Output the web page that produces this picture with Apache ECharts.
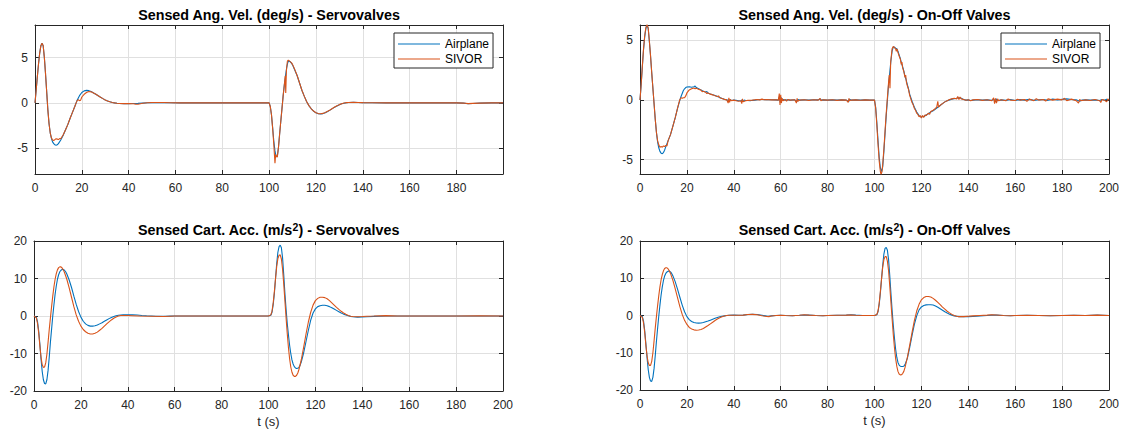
<!DOCTYPE html>
<html><head><meta charset="utf-8">
<script src="https://cdn.jsdelivr.net/npm/echarts@6/dist/echarts.min.js"></script>
<style>html,body{margin:0;padding:0;background:#fff}#c{width:1124px;height:433px}</style>
</head><body><div id="c"></div>
<script>
// ---------- data ----------
const seriesNames = ['Airplane', 'SIVOR'];
// title parts: [text before superscript, superscript, text after]
const panelTitles = [
  ['Sensed Ang. Vel. (deg/s) - Servovalves', '', ''],
  ['Sensed Ang. Vel. (deg/s) - On-Off Valves', '', ''],
  ['Sensed Cart. Acc. (m/s', '2', ') - Servovalves'],
  ['Sensed Cart. Acc. (m/s', '2', ') - On-Off Valves']
];
const xLabelText = 't (s)';
const xTickStep = 20;
const xRanges = [[0, 199.9], [0, 200], [0, 200], [0, 200]];
const yRanges = [[-7.85, 8.6], [-6.2, 6.3], [-20, 20], [-20, 20]];
const yTickSteps = [5, 5, 10, 10];

const servoAngAirplane = [[0,0],[0.5,1.4],[1,2.9],[1.5,4.3],[2,5.5],[2.5,6.3],[3,6.6],[3.5,6.3],[4,5.0],[4.5,3.2],[5,1.2],[5.5,-0.8],[6,-2.3],[6.5,-3.3],[7,-3.9],[7.5,-4.3],[8,-4.5],[8.5,-4.62],[9,-4.67],[9.5,-4.62],[10,-4.5],[11,-4.1],[12,-3.6],[13,-3.0],[14,-2.4],[15,-1.7],[16,-1.05],[17,-0.4],[18,0.3],[19,0.8],[20,1.15],[21,1.33],[22,1.38],[23,1.35],[24,1.25],[25,1.1],[26,0.95],[27,0.78],[28,0.62],[29,0.47],[30,0.33],[31,0.21],[32,0.12],[33,0.05],[34,0],[35,-0.04],[36,-0.07],[38,-0.09],[40,-0.09],[42,-0.07],[44,-0.05],[46,-0.02],[48,0.01],[50,0.03],[52,0.04],[55,0.03],[58,0.01],[62,0],[70,0],[80,0],[90,0],[100,0],[100.5,-0.4],[101,-1.3],[101.5,-2.7],[102,-4.2],[102.5,-5.3],[103,-5.95],[103.5,-5.9],[104,-4.9],[104.5,-3.4],[105,-2.0],[105.5,-0.6],[106,0.8],[106.5,2.0],[107,3.0],[107.5,3.9],[108,4.5],[108.5,4.6],[109,4.55],[109.5,4.4],[110,4.2],[111,3.6],[112,3.0],[113,2.2],[114,1.4],[115,0.75],[116,0.15],[117,-0.3],[118,-0.65],[119,-0.92],[120,-1.1],[121,-1.2],[122,-1.22],[123,-1.18],[124,-1.08],[125,-0.95],[126,-0.8],[127,-0.63],[128,-0.47],[129,-0.33],[130,-0.2],[131,-0.1],[132,-0.03],[133,0.02],[134,0.05],[136,0.06],[138,0.05],[140,0.03],[144,0.01],[150,0],[160,0],[170,0],[180,0],[183,-0.03],[185,-0.1],[187,-0.06],[190,-0.02],[195,0],[199.9,0]];
const servoAngSivor = [[0,0],[0.5,1.4],[1,2.9],[1.5,4.3],[2,5.5],[2.5,6.3],[3,6.6],[3.5,6.3],[4,5.0],[4.5,3.2],[5,1.2],[5.5,-0.8],[6,-2.3],[6.5,-3.3],[7,-3.85],[7.5,-4.1],[8,-4.15],[8.5,-4.05],[9,-3.95],[9.5,-4.0],[10,-4.05],[10.5,-3.95],[11,-3.95],[12,-3.55],[13,-3.0],[14,-2.4],[15,-1.7],[16,-1.05],[17,-0.4],[17.5,-0.05],[18,0.25],[18.5,0.35],[19,0.25],[19.5,0.3],[20,0.65],[21,0.95],[22,1.15],[23,1.25],[24,1.22],[25,1.1],[26,0.95],[27,0.78],[28,0.62],[29,0.47],[30,0.33],[31,0.21],[32,0.12],[33,0.05],[34,0],[35,-0.04],[36,-0.07],[38,-0.08],[40,-0.08],[42,-0.1],[43,-0.14],[44,-0.15],[45,-0.1],[46,-0.04],[48,0.01],[50,0.04],[52,0.05],[55,0.04],[58,0.01],[62,0],[70,0],[80,0],[90,0],[100,0],[100.5,-0.4],[101,-1.3],[101.5,-2.8],[102,-4.6],[102.5,-6.67],[102.8,-5.7],[103,-5.8],[103.5,-6.0],[104,-4.9],[104.5,-3.4],[105,-2.0],[105.5,-0.6],[106,0.8],[106.5,2.0],[106.9,3.0],[107.1,1.1],[107.4,3.6],[107.8,4.6],[108.2,4.72],[108.6,4.65],[109,4.55],[109.5,4.45],[110,4.25],[111,3.65],[112,3.0],[113,2.2],[114,1.4],[115,0.75],[116,0.15],[117,-0.3],[118,-0.65],[119,-0.9],[120,-1.08],[121,-1.18],[122,-1.2],[123,-1.16],[124,-1.06],[125,-0.93],[126,-0.78],[127,-0.62],[128,-0.46],[129,-0.32],[130,-0.19],[131,-0.09],[132,-0.02],[133,0.03],[134,0.05],[136,0.06],[138,0.05],[140,0.03],[144,0.01],[150,0],[160,0],[170,0],[180,0],[183,-0.02],[185,-0.08],[187,-0.05],[190,-0.02],[195,0],[199.9,0]];

const onoffAngAirplane = [[0,0],[0.5,1.3],[1,2.8],[1.5,4.2],[2,5.3],[2.5,6.0],[3,6.3],[3.5,6.0],[4,4.9],[4.5,3.7],[5,2.3],[5.5,1.0],[6,-0.3],[6.5,-1.6],[7,-2.7],[7.5,-3.5],[8,-4.0],[8.5,-4.3],[9,-4.45],[9.5,-4.5],[10,-4.4],[10.5,-4.2],[11,-3.9],[12,-3.4],[13,-2.9],[14,-2.2],[15,-1.5],[16,-0.7],[17,0],[17.5,0.3],[18,0.55],[18.5,0.8],[19,0.95],[19.5,1.05],[20,1.1],[21,1.12],[22,1.08],[23,1.12],[23.5,1.18],[24,1.05],[25,0.95],[26,0.85],[27,0.75],[28,0.68],[28.5,0.72],[29,0.6],[30,0.52],[31,0.45],[32,0.38],[33,0.3],[34,0.22],[35,0.14],[36,0.07],[37,0.02],[38,-0.05],[38.5,0.02],[39,-0.03],[40,0],[41,-0.02],[42,-0.05],[43,-0.08],[43.5,0.02],[44,-0.1],[44.5,0],[45,-0.04],[46,-0.03],[47,-0.06],[48,-0.02],[49,0],[50,0.03],[52,0.05],[54,0.04],[56,0.03],[58,0.02],[59,0],[59.5,0.3],[59.8,-0.2],[60.1,0.25],[60.4,-0.05],[61,0.05],[62,0],[63,0.03],[64,0],[66,0.02],[67,-0.1],[67.4,0.05],[68,0],[70,0.02],[72,0.01],[74,0.03],[76,0.02],[77,0.1],[77.3,-0.02],[78,0.02],[80,0],[82,0.02],[84,0],[86,0.02],[88,0],[89,-0.12],[89.3,0.08],[90,0],[92,0.02],[94,0],[96,0.02],[98,0],[100,0],[100.5,-0.6],[101,-1.9],[101.5,-3.4],[102,-4.8],[102.5,-5.7],[103,-6.0],[103.5,-5.6],[104,-4.3],[104.5,-2.8],[105,-1.3],[105.5,0],[106,1.3],[106.5,2.3],[107,3.3],[107.5,4.1],[108,4.45],[108.5,4.45],[109,4.35],[109.5,4.3],[110,4.1],[110.5,3.8],[111,3.5],[111.5,3.1],[112,2.8],[112.5,2.45],[113,2.0],[113.5,1.7],[114,1.3],[114.5,0.95],[115,0.5],[115.5,0.2],[116,-0.1],[117,-0.6],[118,-1.0],[119,-1.3],[120,-1.45],[120.5,-1.35],[121,-1.4],[122,-1.25],[123,-1.15],[124,-1.0],[125,-0.9],[126,-0.75],[127,-0.6],[128,-0.45],[129,-0.3],[130,-0.15],[131,-0.05],[132,0.02],[133,0.08],[134,0.12],[135,0.15],[136,0.2],[137,0.15],[138,0.05],[139,0],[140,0.02],[141,-0.03],[142,0],[144,0.03],[146,0],[148,0.02],[150,-0.02],[151,0.05],[151.5,-0.15],[152,0.1],[152.5,-0.05],[154,0.02],[156,-0.02],[158,0.05],[160,-0.03],[162,0.04],[164,0],[166,0.06],[168,-0.02],[170,0.03],[172,0.05],[174,-0.02],[176,0.08],[178,0.02],[180,0.06],[182,0.1],[184,0.05],[186,0.02],[187.5,-0.1],[188.5,0],[190,0.02],[192,0],[194,0.02],[196,-0.03],[197,0.05],[198,-0.02],[199,0.08],[200,0]];
const onoffAngSivor = [[0,0],[0.5,1.35],[1,2.85],[1.5,4.3],[2,5.4],[2.5,6.1],[3,6.35],[3.5,6.05],[4,4.95],[4.5,3.7],[5,2.3],[5.5,1.0],[6,-0.3],[6.5,-1.6],[7,-2.7],[7.5,-3.4],[8,-3.75],[8.5,-3.95],[9,-3.9],[9.5,-3.95],[10,-3.85],[10.5,-3.9],[11,-3.8],[11.5,-3.85],[12,-3.4],[13,-2.9],[14,-2.2],[15,-1.5],[16,-0.7],[16.5,-0.3],[17,0.05],[17.5,0.2],[18,0.15],[18.5,0.2],[19,0.2],[19.5,0.35],[20,0.6],[21,0.85],[22,0.95],[23,1.02],[23.5,0.95],[24,1.0],[25,0.9],[26,0.85],[26.5,0.7],[27,0.75],[28,0.66],[28.5,0.55],[29,0.6],[30,0.5],[31,0.44],[32,0.36],[33,0.3],[33.5,0.35],[34,0.2],[35,0.13],[36,0.06],[37,0.02],[37.6,-0.25],[37.9,0.2],[38.2,-0.2],[38.5,0.05],[39,-0.05],[40,0],[41,-0.05],[42,-0.1],[43,-0.05],[43.4,-0.3],[43.7,0.1],[44,-0.15],[45,-0.05],[46,-0.02],[48,0],[50,0.05],[51,0.02],[52,0.08],[53,0.03],[54,0.05],[56,0.02],[58,0.03],[59,0],[59.4,0.55],[59.7,-0.4],[60,0.45],[60.3,-0.25],[60.6,0.15],[61,-0.05],[62,0.05],[62.5,-0.1],[63,0.05],[64,0],[66,0.03],[66.7,-0.25],[67,0.15],[67.3,-0.1],[68,0],[70,0.03],[72,-0.02],[74,0.03],[76,0],[76.8,0.15],[77.1,-0.05],[78,0.02],[80,0],[82,0.03],[84,-0.02],[86,0.02],[88,0],[88.8,-0.2],[89.1,0.15],[89.4,-0.05],[90,0],[92,0.02],[94,-0.01],[96,0.02],[98,0],[100,0],[100.5,-0.7],[101,-2.1],[101.5,-3.7],[102,-5.1],[102.5,-6.0],[102.8,-6.25],[103.2,-6.0],[103.5,-5.4],[104,-4.1],[104.5,-2.6],[105,-1.1],[105.5,0.2],[106,1.5],[106.3,2.1],[106.6,1.0],[106.9,3.2],[107.5,4.3],[108,4.5],[108.5,4.4],[109,4.3],[109.3,4.1],[109.6,4.3],[110,4.0],[110.5,3.7],[111,3.45],[111.4,3.0],[111.7,3.2],[112,2.7],[112.5,2.4],[113,1.9],[113.3,2.1],[113.6,1.5],[114,1.2],[114.5,0.9],[115,0.4],[115.5,0.1],[116,-0.2],[116.5,-0.4],[117,-0.7],[117.5,-0.85],[118,-1.1],[118.5,-1.2],[119,-1.4],[119.5,-1.3],[120,-1.5],[120.5,-1.3],[121,-1.45],[121.5,-1.25],[122,-1.3],[123,-1.1],[123.5,-1.2],[124,-0.95],[125,-0.85],[126,-0.7],[126.5,-0.6],[127,-0.1],[127.3,-0.6],[128,-0.45],[128.5,-0.35],[129,-0.3],[130,-0.15],[131,-0.05],[132,0.05],[133,0.1],[134,0.15],[135,0.1],[135.5,0.3],[136,0.05],[136.5,0.25],[137,0.1],[138,0.05],[139,-0.02],[140,0.03],[141,-0.05],[142,0.02],[144,0.05],[146,-0.02],[148,0.03],[150,-0.05],[150.8,0.2],[151.2,-0.3],[151.6,0.15],[152,-0.25],[152.5,0.1],[153,-0.05],[154,0.03],[156,-0.05],[157,0.1],[158,0],[160,-0.04],[161,0.08],[162,0],[164,0.05],[165,-0.1],[166,0.08],[168,-0.05],[169,0.12],[170,0],[172,0.05],[173,-0.08],[174,0.1],[176,0],[178,0.08],[180,0.02],[181,0.15],[182,-0.05],[184,0.08],[186,-0.05],[187,-0.25],[187.5,0.05],[188,-0.05],[190,0.02],[192,-0.03],[194,0.05],[196,-0.05],[196.5,-0.2],[197,0.05],[198,0],[199,-0.15],[199.5,0.1],[200,0]];

const servoAccAirplane = [[0,0],[1,-0.3],[1.5,-1.5],[2,-4],[2.5,-7.5],[3,-11.5],[3.5,-14.8],[4,-17.0],[4.5,-18.0],[5,-18.1],[5.5,-17.0],[6,-14.5],[6.5,-11],[7,-7],[7.5,-3.5],[8,0],[8.5,3],[9,5.8],[9.5,8],[10,9.8],[10.5,11],[11,11.8],[11.5,12.2],[12,12.4],[12.5,12.4],[13,12.2],[13.5,11.8],[14,11.2],[15,9.6],[16,7.6],[17,5.3],[18,3.1],[19,1.2],[20,-0.3],[21,-1.4],[22,-2.1],[23,-2.5],[24,-2.7],[25,-2.7],[26,-2.6],[27,-2.4],[28,-2.1],[29,-1.8],[30,-1.4],[31,-1.05],[32,-0.7],[33,-0.4],[34,-0.15],[35,0.05],[36,0.2],[37,0.28],[38,0.3],[40,0.32],[42,0.3],[44,0.25],[46,0.15],[48,0.08],[50,0.02],[52,-0.05],[54,-0.1],[56,-0.08],[58,-0.04],[60,0],[70,0],[80,0],[90,0],[100,0],[101,0.2],[101.5,1],[102,3],[102.5,6],[103,10],[103.5,14],[104,17],[104.5,18.5],[105,18.9],[105.5,18.2],[106,15.5],[106.5,11],[107,6],[107.5,1.8],[108,-2],[108.5,-5],[109,-7.8],[109.5,-10],[110,-11.7],[110.5,-12.8],[111,-13.5],[111.5,-13.85],[112,-14],[112.5,-13.95],[113,-13.7],[113.5,-13.1],[114,-12.2],[115,-9.8],[116,-6.8],[117,-3.8],[118,-1.1],[119,0.8],[120,1.9],[121,2.5],[122,2.75],[123,2.85],[124,2.85],[125,2.75],[126,2.5],[127,2.2],[128,1.85],[129,1.5],[130,1.15],[131,0.8],[132,0.5],[133,0.25],[134,0.05],[135,-0.1],[136,-0.2],[138,-0.3],[140,-0.28],[142,-0.2],[145,-0.1],[150,0],[160,0],[170,0],[180,0],[190,0],[200,0]];
const servoAccSivor = [[0,0],[1,-0.5],[1.5,-2],[2,-4.5],[2.5,-8],[3,-11],[3.5,-13],[4,-13.7],[4.5,-13.6],[5,-12.5],[5.5,-10.2],[6,-7],[6.5,-3.6],[7,-0.5],[7.5,2.5],[8,5.3],[8.5,7.8],[9,9.8],[9.5,11.3],[10,12.3],[10.5,12.9],[11,13.1],[11.5,13.1],[12,12.8],[12.5,12.3],[13,11.6],[14,9.8],[15,7.5],[16,5],[17,2.5],[18,0.3],[19,-1.4],[20,-2.7],[21,-3.6],[22,-4.2],[23,-4.6],[24,-4.8],[25,-4.8],[26,-4.6],[27,-4.3],[28,-3.8],[29,-3.3],[30,-2.7],[31,-2.1],[32,-1.55],[33,-1.05],[34,-0.6],[35,-0.25],[36,0],[37,0.12],[38,0.15],[40,0.12],[42,0.08],[45,0.02],[50,-0.05],[55,-0.15],[58,-0.05],[60,0],[70,0],[80,0],[90,0],[100,0],[101,0.3],[101.5,1.3],[102,3.5],[102.5,6.5],[103,10],[103.5,13.2],[104,15.3],[104.5,16.2],[105,16.3],[105.5,15.2],[106,12.5],[106.5,8.5],[107,4],[107.5,-0.5],[108,-4.7],[108.5,-8.4],[109,-11.4],[109.5,-13.6],[110,-15.0],[110.5,-15.8],[111,-16.1],[111.5,-16.1],[112,-15.8],[112.5,-15.2],[113,-14.2],[114,-11.6],[115,-8.3],[116,-4.8],[117,-1.6],[118,1.0],[119,2.9],[120,4.1],[121,4.7],[122,5.0],[123,5.0],[124,4.9],[125,4.6],[126,4.1],[127,3.5],[128,2.9],[129,2.3],[130,1.75],[131,1.25],[132,0.8],[133,0.45],[134,0.15],[135,-0.05],[136,-0.15],[138,-0.2],[140,-0.15],[142,-0.05],[145,0],[150,0.1],[155,0],[160,0],[170,0],[180,0],[190,0.05],[200,0]];

const onoffAccAirplane = [[0,0],[1,-0.3],[1.5,-1.5],[2,-4],[2.5,-7.5],[3,-11.3],[3.5,-14.5],[4,-16.6],[4.5,-17.6],[5,-17.7],[5.5,-16.6],[6,-14.2],[6.5,-10.8],[7,-7],[7.5,-3.5],[8,-0.2],[8.5,2.8],[9,5.5],[9.5,7.7],[10,9.4],[10.5,10.6],[11,11.3],[11.5,11.7],[12,11.9],[12.5,11.9],[13,11.7],[13.5,11.3],[14,10.7],[15,9.1],[16,7.1],[17,4.9],[18,2.8],[19,1.0],[20,-0.3],[21,-1.1],[22,-1.6],[23,-1.9],[24,-2.0],[25,-2.05],[26,-2.0],[27,-1.9],[28,-1.7],[29,-1.5],[30,-1.25],[31,-1.0],[32,-0.75],[33,-0.55],[34,-0.35],[35,-0.2],[36,-0.1],[37,0],[38,0.05],[40,0.1],[42,0.05],[44,0.1],[46,0.25],[48,0.3],[50,0.25],[52,0.05],[54,-0.15],[55,-0.2],[56,-0.1],[58,0],[60,0.05],[62,0],[65,-0.05],[68,0.05],[70,0.15],[72,0.1],[75,0],[78,-0.05],[80,0],[84,0.05],[88,0.1],[90,0.2],[92,0.1],[95,0],[100,0],[101,0.2],[101.5,1],[102,3],[102.5,6],[103,9.8],[103.5,13.5],[104,16.5],[104.5,18],[105,18.3],[105.5,17.5],[106,15],[106.5,10.8],[107,6],[107.5,1.5],[108,-2.5],[108.5,-6],[109,-9],[109.5,-11.2],[110,-12.6],[110.5,-13.3],[111,-13.6],[111.5,-13.7],[112,-13.7],[112.5,-13.6],[113,-13.2],[114,-11.5],[115,-8.6],[116,-5.4],[117,-2.4],[118,-0.1],[119,1.5],[120,2.3],[121,2.7],[122,2.85],[123,2.9],[124,2.9],[125,2.8],[126,2.55],[127,2.2],[128,1.8],[129,1.4],[130,1.0],[131,0.65],[132,0.35],[133,0.1],[134,-0.1],[135,-0.2],[136,-0.3],[138,-0.35],[140,-0.3],[142,-0.25],[145,-0.15],[148,0],[150,0.1],[152,0.1],[155,0],[158,-0.05],[160,0],[165,0.05],[170,0],[175,-0.05],[180,0],[185,0.05],[190,0],[195,0.1],[200,0]];
const onoffAccSivor = [[0,0],[1,-0.5],[1.5,-2],[2,-4.5],[2.5,-8],[3,-10.8],[3.5,-12.7],[4,-13.4],[4.5,-13.4],[5,-12.3],[5.5,-10],[6,-6.8],[6.5,-3.4],[7,-0.3],[7.5,2.6],[8,5.3],[8.5,7.7],[9,9.6],[9.5,11],[10,12],[10.5,12.6],[11,12.8],[11.5,12.8],[12,12.5],[12.5,12],[13,11.3],[14,9.5],[15,7.2],[16,4.8],[17,2.4],[18,0.3],[19,-1.3],[20,-2.4],[21,-3.2],[22,-3.6],[23,-3.85],[24,-3.95],[25,-3.9],[26,-3.75],[27,-3.5],[28,-3.1],[29,-2.7],[30,-2.25],[31,-1.8],[32,-1.35],[33,-0.95],[34,-0.6],[35,-0.35],[36,-0.15],[37,0],[38,0.05],[40,0.05],[42,0.05],[44,0.1],[46,0.25],[48,0.3],[50,0.2],[52,-0.05],[54,-0.25],[55,-0.3],[56,-0.15],[58,0],[60,0.05],[62,0],[65,-0.05],[68,0.05],[70,0.2],[72,0.1],[75,0],[78,-0.05],[80,0],[84,0.05],[88,0.1],[90,0.15],[92,0.05],[95,0],[100,0],[101,0.3],[101.5,1.2],[102,3.3],[102.5,6.4],[103,9.8],[103.5,13],[104,15],[104.5,15.8],[105,15.8],[105.5,14.6],[106,12],[106.5,8],[107,3.6],[107.5,-0.8],[108,-5],[108.5,-8.6],[109,-11.5],[109.5,-13.6],[110,-15],[110.5,-15.7],[111,-15.95],[111.5,-15.9],[112,-15.6],[112.5,-15.0],[113,-14.0],[114,-11.3],[115,-8.0],[116,-4.6],[117,-1.4],[118,1.2],[119,3.0],[120,4.2],[121,4.8],[122,5.1],[123,5.1],[124,4.95],[125,4.6],[126,4.1],[127,3.5],[128,2.9],[129,2.25],[130,1.7],[131,1.15],[132,0.7],[133,0.3],[134,0],[135,-0.2],[136,-0.3],[138,-0.3],[140,-0.2],[142,-0.1],[145,0],[148,0.1],[150,0.2],[152,0.15],[155,0],[158,-0.05],[160,0],[165,0.05],[170,0],[175,-0.05],[180,0],[185,0.05],[190,0],[195,0.1],[200,0]];

const panelData = [
  [servoAngAirplane, servoAngSivor],
  [onoffAngAirplane, onoffAngSivor],
  [servoAccAirplane, servoAccSivor],
  [onoffAccAirplane, onoffAccSivor]
];

// ---------- layout / style ----------
const FONT = '"Liberation Sans", Arial, Helvetica, sans-serif';
const AXC = '#262626';
const GRIDC = '#e0e0e0';
const COLORS = ['#0072BD', '#D95319'];
const grids = [
  {left: 35, top: 25, width: 468, height: 149},
  {left: 640, top: 25, width: 469, height: 149},
  {left: 34, top: 241, width: 469, height: 150},
  {left: 640, top: 241, width: 469, height: 149}
];
const titleY = [6, 6, 221, 221];

function isMultiple(v, step) {
  const r = Math.abs(v / step - Math.round(v / step));
  return r < 1e-6;
}
function titleText(parts) {
  let s = '{t|' + parts[0] + '}';
  if (parts[1]) s += '{s|' + parts[1] + '}';
  if (parts[2]) s += '{t|' + parts[2] + '}';
  return s;
}

const xAxes = [], yAxes = [], series = [], titles = [];
grids.forEach((g, i) => {
  const xr = xRanges[i], yr = yRanges[i], ys = yTickSteps[i];
  const common = {
    gridIndex: i, type: 'value',
    axisLine: {show: true, onZero: false, lineStyle: {color: AXC, width: 1}},
    axisTick: {show: true, inside: true, length: 4, lineStyle: {color: AXC}}
  };
  const xBase = Object.assign({}, common, {min: xr[0], max: xr[1], interval: xTickStep});
  xAxes.push(Object.assign({}, xBase, {
    position: 'bottom',
    splitLine: {show: true, lineStyle: {color: GRIDC, width: 1}},
    axisLabel: {show: true, margin: 8, color: AXC, fontSize: 12, fontFamily: FONT,
      formatter: v => isMultiple(v, xTickStep) ? String(v) : ''},
    name: i >= 2 ? xLabelText : '', nameLocation: 'middle', nameGap: 24,
    nameTextStyle: {color: AXC, fontSize: 13, fontFamily: FONT}
  }));
  xAxes.push(Object.assign({}, xBase, {
    position: 'top', splitLine: {show: false}, axisLabel: {show: false}
  }));
  const yBase = Object.assign({}, common, {min: yr[0], max: yr[1]});
  if (isMultiple(yr[0], ys)) yBase.interval = ys; else yBase.splitNumber = 3;
  yAxes.push(Object.assign({}, yBase, {
    position: 'left',
    splitLine: {show: true, lineStyle: {color: GRIDC, width: 1}},
    axisLabel: {show: true, margin: 7, color: AXC, fontSize: 12, fontFamily: FONT,
      formatter: v => isMultiple(v, ys) ? String(v) : ''}
  }));
  yAxes.push(Object.assign({}, yBase, {
    position: 'right', splitLine: {show: false}, axisLabel: {show: false}
  }));
  panelData[i].forEach((d, k) => {
    series.push({
      name: seriesNames[k], type: 'line', xAxisIndex: 2 * i, yAxisIndex: 2 * i,
      data: d, symbol: 'none', showSymbol: false, smooth: false, clip: true,
      lineStyle: {color: COLORS[k], width: 1.1}, itemStyle: {color: COLORS[k]},
      emphasis: {disabled: true}, animation: false
    });
  });
  titles.push({
    text: titleText(panelTitles[i]),
    left: g.left + g.width / 2, top: titleY[i], textAlign: 'center', padding: 0,
    textStyle: {
      rich: {
        t: {fontSize: 14.3, fontWeight: 'bold', fontFamily: FONT, color: '#000', lineHeight: 18},
        s: {fontSize: 10.5, fontWeight: 'bold', fontFamily: FONT, color: '#000', lineHeight: 9, verticalAlign: 'top'}
      }
    }
  });
});

const legendBase = {
  orient: 'vertical', top: 33, data: seriesNames,
  icon: 'rect', itemWidth: 42, itemHeight: 1.2, itemGap: 1,
  padding: [4, 4, 2, 4], borderColor: AXC, borderWidth: 1, backgroundColor: '#fff',
  textStyle: {color: '#000', fontSize: 12, fontFamily: FONT, lineHeight: 14},
  selectedMode: false
};

const chart = echarts.init(document.getElementById('c'), null, {renderer: 'svg'});
chart.setOption({
  animation: false,
  backgroundColor: '#fff',
  title: titles,
  legend: [
    Object.assign({}, legendBase, {left: 394}),
    Object.assign({}, legendBase, {left: 1001})
  ],
  grid: grids.map(g => Object.assign({containLabel: false, outerBoundsMode: 'none'}, g)),
  xAxis: xAxes,
  yAxis: yAxes,
  series: series
});
</script>
</body></html>
